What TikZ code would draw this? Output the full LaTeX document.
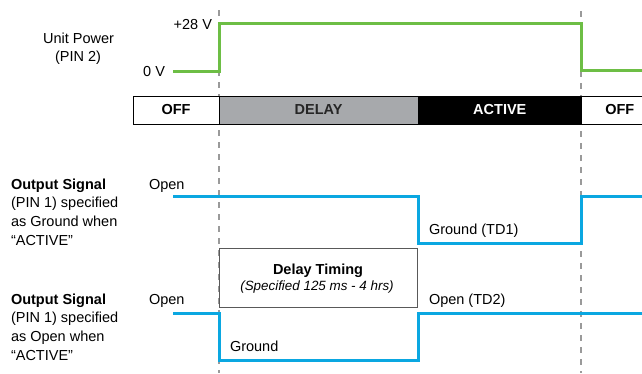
\documentclass[tikz,border=0pt]{standalone}
\usepackage{fontspec}
\setmainfont{Liberation Sans}
\definecolor{pgreen}{HTML}{6DBE45}
\definecolor{pblue}{HTML}{0AA7E1}
\definecolor{pgray}{HTML}{A7A9AC}
\definecolor{guidegray}{HTML}{9A9A9A}
\begin{document}
\begin{tikzpicture}[x=1pt,y=-1pt,font=\fontsize{14.5}{18.7}\selectfont]
\useasboundingbox (0,0) rectangle (642,373);
\tikzset{
  guide/.style={draw=guidegray,line width=1.2pt,dash pattern=on 6pt off 6pt},
  power/.style={draw=pgreen,line width=3pt},
  sig/.style={draw=pblue,line width=3pt},
  seg/.style={draw=black,line width=1pt,minimum height=28pt,inner sep=0pt,outer sep=0pt,anchor=north west,font=\fontsize{14.5}{16}\selectfont\bfseries},
  txt/.style={inner sep=0pt,outer sep=0pt},
  dbox/.style={draw=black!65,line width=0.8pt,inner sep=0pt,outer sep=0pt,anchor=north west,minimum width=198pt,minimum height=59pt},
}
% guides
\coordinate (g1t) at (219,10); \coordinate (g1b) at (219,373);
\coordinate (g2t) at (581,11); \coordinate (g2b) at (581,373);
\draw[guide] (g1t) -- (g1b);
\draw[guide] (g2t) -- (g2b);

% unit power
\node[txt,align=center,anchor=base] (up1) at (78.5,43.3) {Unit Power};
\node[txt,anchor=base] (up2) at (78,61.5) {(PIN 2)};
\node[txt,anchor=base east] (v28) at (212,29.5) {+28 V};
\node[txt,anchor=base east] (v0) at (165,76) {0 V};
\coordinate (p0) at (173,71);
\coordinate (p1) at (219,71);
\coordinate (p2) at (219,23.3);
\coordinate (p3) at (581,23.3);
\coordinate (p4) at (581,70);
\coordinate (p5) at (645,70);
\draw[power] (p0) -- (p1) -- (p2) -- (p3) -- (p4) -- (p5);

% state bar
\node[seg,fill=white,minimum width=86pt] (off1) at (133,96) {OFF};
\node[seg,fill=pgray,minimum width=199.3pt,text=black!85] (delay) at (219,96) {DELAY};
\node[seg,fill=black,minimum width=163pt,text=white] (active) at (418.3,96) {ACTIVE};
\node[seg,fill=white,minimum width=77pt] (off2) at (581.3,96) {OFF};

% output signal 1
\node[txt,anchor=base west,align=left] (l1a) at (11,189) {\bfseries Output Signal};
\node[txt,anchor=base west] (l1b) at (11,207.5) {(PIN 1) specified};
\node[txt,anchor=base west] (l1c) at (11,226.3) {as Ground when};
\node[txt,anchor=base west] (l1d) at (11,245) {“ACTIVE”};
\node[txt,anchor=base west] (o1) at (149,189) {Open};
\node[txt,anchor=base west] (gtd1) at (429,234) {Ground (TD1)};
\coordinate (a0) at (173,196);
\coordinate (a1) at (418.3,196);
\coordinate (a2) at (418.3,243.3);
\coordinate (a3) at (581,243.3);
\coordinate (a4) at (581,196);
\coordinate (a5) at (645,196);
\draw[sig] (a0) -- (a1) -- (a2) -- (a3) -- (a4) -- (a5);

% delay timing box
\node[dbox] (dt) at (219,248.3) {};
\node[txt,anchor=base,font=\fontsize{14.5}{16}\selectfont\bfseries] (dtt) at (318,274) {Delay Timing};
\node[txt,anchor=base,font=\fontsize{13.4}{16}\selectfont\itshape] (dts) at (317,290.5) {(Specified 125 ms - 4 hrs)};

% output signal 2
\node[txt,anchor=base west] (l2a) at (11,304) {\bfseries Output Signal};
\node[txt,anchor=base west] (l2b) at (11,322.8) {(PIN 1) specified};
\node[txt,anchor=base west] (l2c) at (11,341.5) {as Open when};
\node[txt,anchor=base west] (l2d) at (11,360) {“ACTIVE”};
\node[txt,anchor=base west] (o2) at (149,304) {Open};
\node[txt,anchor=base west] (gr2) at (230,351.5) {Ground};
\node[txt,anchor=base west] (otd2) at (429,304) {Open (TD2)};
\coordinate (b0) at (173,313.3);
\coordinate (b1) at (219,313.3);
\coordinate (b2) at (219,360);
\coordinate (b3) at (418.5,360);
\coordinate (b4) at (418.5,313.3);
\coordinate (b5) at (645,313.3);
\draw[sig] (b0) -- (b1) -- (b2) -- (b3) -- (b4) -- (b5);
\end{tikzpicture}
\end{document}
